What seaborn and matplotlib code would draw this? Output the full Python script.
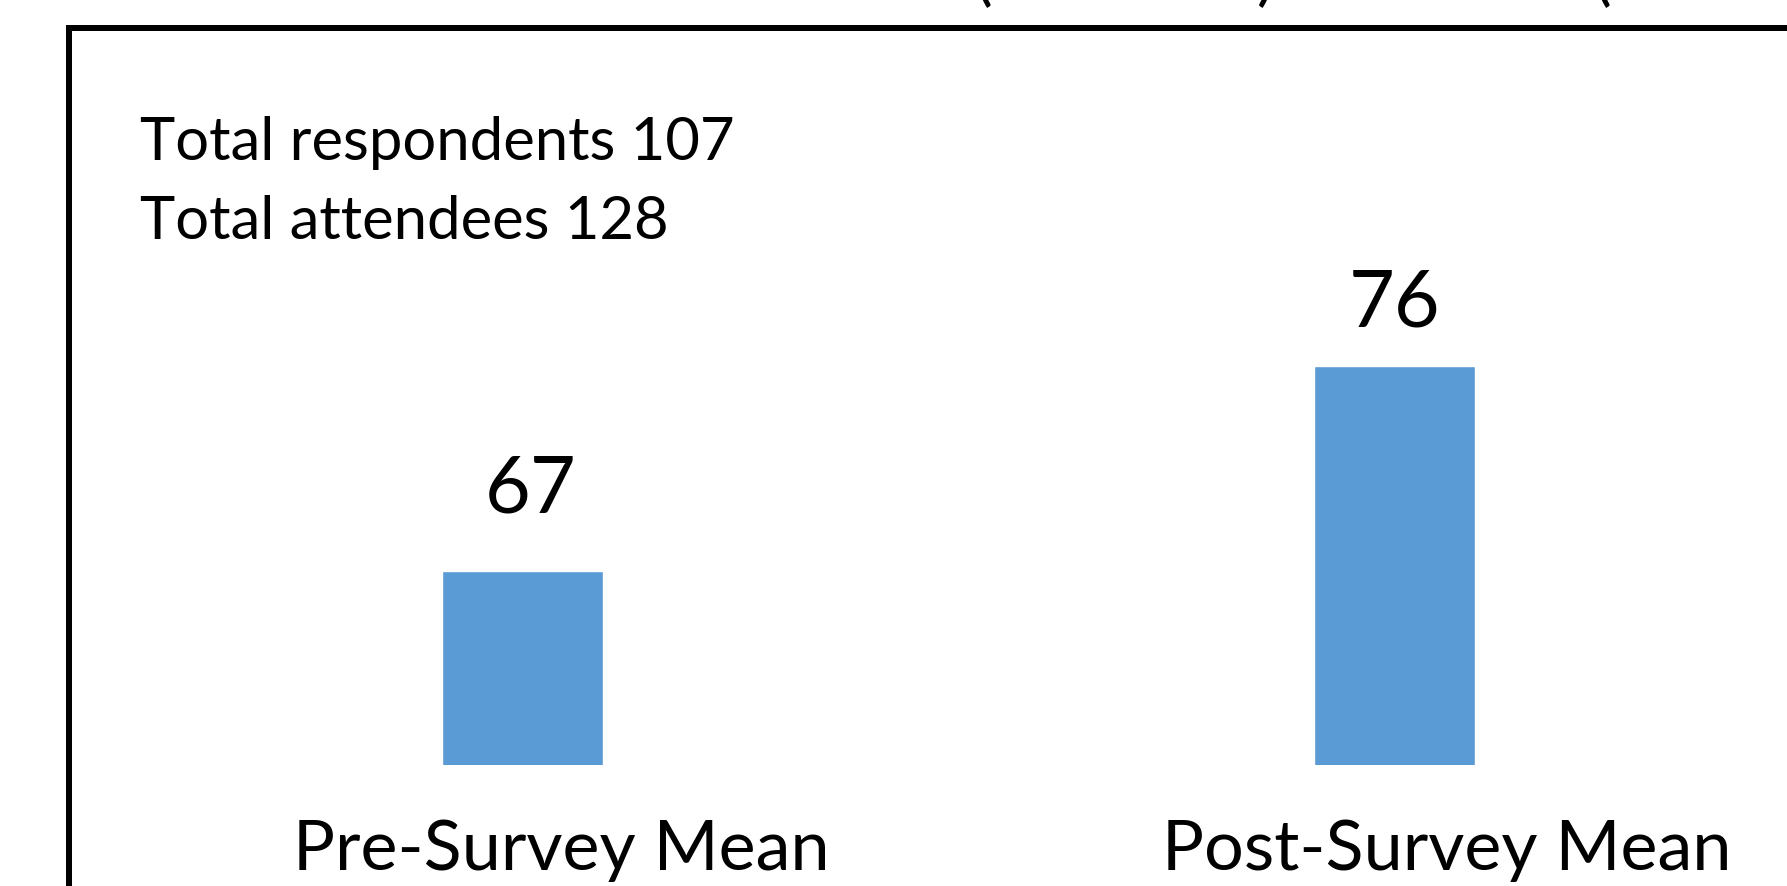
import matplotlib
matplotlib.use("Agg")
import matplotlib.pyplot as plt
import matplotlib.transforms as mtransforms
from matplotlib.lines import Line2D
import seaborn as sns
import pandas as pd

categories = ["Pre-Survey Mean", "Post-Survey Mean"]
values = [67, 76]
info_lines = ["Total respondents 107", "Total attendees 128"]

W, H = 1787, 886
sns.set_theme(style="white")
plt.rcParams["font.family"] = ["Lato", "DejaVu Sans"]

fig = plt.figure(figsize=(W / 100, H / 100), dpi=100)
fig.patch.set_facecolor("white")

ax_bottom_px = 765
ax = fig.add_axes([0, (H - ax_bottom_px) / H, 1, ax_bottom_px / H])

df = pd.DataFrame({"cat": categories, "val": values})
sns.barplot(data=df, x="cat", y="val", color="#5B9BD5", saturation=1,
            width=0.184, ax=ax)

ax.set_xlim(-0.5992, 1.4501)
ax.set_ylim(58.48, 92.06)
ax.set_xlabel("")
ax.set_ylabel("")
ax.set_yticks([])
for s in ax.spines.values():
    s.set_visible(False)
ax.tick_params(axis="x", length=0, pad=39, labelsize=50.5, labelcolor="black")

# per-label horizontal offsets (pixels)
offsets_px = [39, 52]
for lab, dx in zip(ax.get_xticklabels(), offsets_px):
    lab.set_transform(lab.get_transform() +
                      mtransforms.ScaledTranslation(dx / 100, 0, fig.dpi_scale_trans))

# value labels
pads = [32, 18]
dxs = [6, 0]
for p, v, pad, dx in zip(ax.patches, values, pads, dxs):
    x = p.get_x() + p.get_width() / 2
    ax.annotate(f"{v}", (x, p.get_height()), xytext=(dx, pad),
                textcoords="offset points", ha="center", va="bottom",
                fontsize=57, color="black")

# info text
fig.text(140 / W, 1 - 160 / H, info_lines[0], fontsize=43, color="black",
         va="baseline", ha="left")
fig.text(140 / W, 1 - 239 / H, info_lines[1], fontsize=43, color="black",
         va="baseline", ha="left")

# frame lines
lw = 6 * 72 / 100
fig.add_artist(Line2D([69 / W, 69 / W], [1 - 27.5 / H, -0.05],
                      transform=fig.transFigure, color="black", lw=lw,
                      solid_capstyle="projecting"))
fig.add_artist(Line2D([69 / W, 1.05], [1 - 27.5 / H, 1 - 27.5 / H],
                      transform=fig.transFigure, color="black", lw=lw,
                      solid_capstyle="projecting"))

# clipped parentheses of a title above the crop
for ch, xp in [("(", 984), (")", 1266), ("(", 1603)]:
    fig.text(xp / W, 1 + 2 / H, ch, fontsize=48, color="black",
             ha="center", va="baseline")

fig.savefig("out.png", dpi=100, facecolor="white")
